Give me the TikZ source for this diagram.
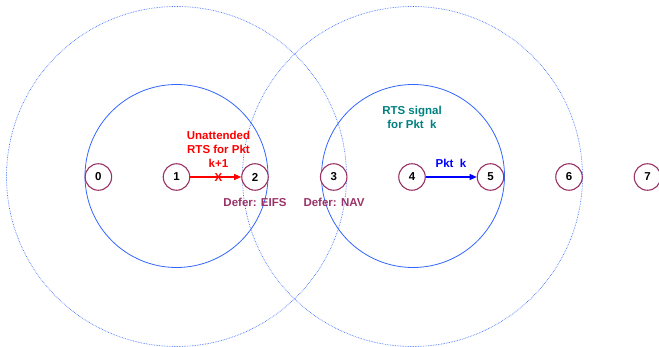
\documentclass[tikz,border=0pt]{standalone}
\usepackage{fontspec}
\setmainfont{Liberation Sans}
\usetikzlibrary{arrows.meta}
\definecolor{nodecol}{HTML}{993366}
\definecolor{ringcol}{HTML}{3366FF}
\definecolor{tealcol}{HTML}{008080}
\begin{document}
\begin{tikzpicture}[x=1pt,y=-1pt,
  stn/.style={circle,draw=nodecol,line width=1.1pt,minimum size=26.5pt,inner sep=0pt,font=\bfseries\fontsize{11.5}{13}\selectfont},
  inner/.style={draw=ringcol,line width=0.8pt},
  outer/.style={draw=ringcol,line width=0.65pt,densely dotted},
  lbl/.style={font=\bfseries\fontsize{11.5}{14}\selectfont,align=center,inner sep=0pt},
  arr/.style={line width=1.1pt,-{Triangle[length=7pt,width=6pt]}}]
\useasboundingbox (0,0) rectangle (659,347);
% rings
\draw[outer] (176.5,176.5) circle (170);
\draw[outer] (412.5,176.5) circle (170);
\draw[inner] (176.5,176) circle (91.5);
\draw[inner] (413,176) circle (91.5);
% stations
\foreach \i/\x in {0/98.4,1/176.5,2/255,3/333.7,4/412,5/490.5,6/569,7/647.5}
  \node[stn,fill=white] (n\i) at (\x,177) {\i};
% arrows
\draw[arr,red] (n1) -- (n2);
\draw[arr,blue] (n4) -- (n5);
% labels
\node[lbl,text=red] (un) at (218.5,149) {Unattended\\RTS for Pkt\\k+1};
\node[lbl,text=red] (x) at (218.5,178) {X};
\node[lbl,text=nodecol] (eifs) at (255,202) {Defer: EIFS};
\node[lbl,text=nodecol] (nav) at (334,202) {Defer: NAV};
\node[lbl,text=tealcol] (rts) at (412,117) {RTS signal\\for Pkt\ \ k};
\node[lbl,text=blue] (pk) at (451,163) {Pkt\ \ k};
\end{tikzpicture}
\end{document}
